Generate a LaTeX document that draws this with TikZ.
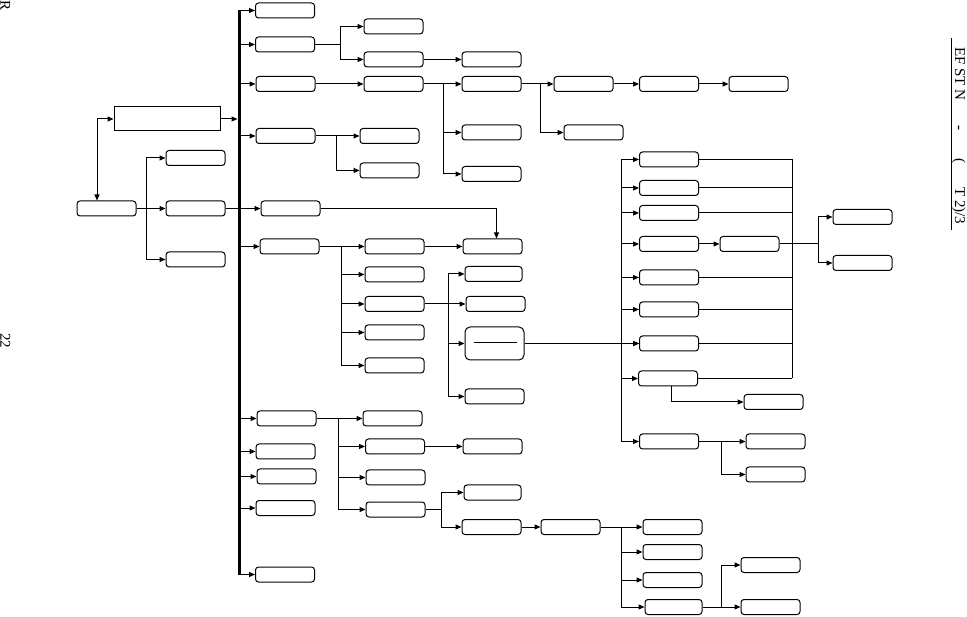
\documentclass[tikz,border=0pt]{standalone}
\usepackage{fontspec}
\setmainfont{Liberation Serif}
\usetikzlibrary{arrows.meta}
\begin{document}
\begin{tikzpicture}[x=1pt,y=-1pt,
  bx/.style={draw, rounded corners=3pt, minimum width=59pt, minimum height=15pt, inner sep=0pt, line width=1pt},
  ln/.style={line width=1pt},
  arr/.style={ln, -{Triangle[length=6pt,width=5pt]}},
  arrtwo/.style={ln, {Triangle[length=6pt,width=5pt]}-{Triangle[length=6pt,width=5pt]}},
  busline/.style={line width=3pt},
  lbl/.style={rotate=-90, inner sep=0pt, font=\fontsize{15}{16}\selectfont}]
\useasboundingbox (0,0) rectangle (967,617);
\newcommand\bxat[3]{\node[bx] (#1) at (#2,#3) {};}
% left part
\bxat{A0}{106.5}{208.5}
\node[draw, line width=1pt, minimum width=106pt, minimum height=24pt, inner sep=0pt] (BIG) at (167,119) {};
\bxat{B1}{195.5}{158}
\bxat{B2}{195.5}{208.5}
\bxat{B3}{195.5}{259.5}
% bus children
\bxat{C1}{285}{10.5}
\bxat{C2}{285}{44.5}
\bxat{C3}{285.5}{84}
\bxat{C4}{285.5}{136}
\bxat{C5}{290.5}{208.5}
\bxat{C6}{289.5}{246.5}
\bxat{C7}{286.5}{418.5}
\bxat{C8}{285.5}{451.5}
\bxat{C9}{286.5}{476.5}
\bxat{C10}{285.5}{508}
\bxat{C11}{285}{574.5}
% upper branches
\bxat{D1}{393.5}{26.5}
\bxat{D2}{393.5}{59.5}
\bxat{E1}{491.5}{59.5}
\bxat{D3}{393.5}{84}
\bxat{E2}{491.5}{84}
\bxat{E3}{491.5}{132.5}
\bxat{E4}{491.5}{174}
\bxat{F1}{583.5}{84}
\bxat{F2}{593.5}{132.5}
\bxat{G1}{669}{84}
\bxat{H1}{758.5}{84}
\bxat{D4}{389.5}{136}
\bxat{D5}{389.5}{170.5}
% middle branches
\bxat{D6}{394.5}{246.5}
\bxat{D7}{394.5}{274.5}
\bxat{D8}{394.5}{304}
\bxat{D9}{394.5}{332.5}
\bxat{D10}{394.5}{365.5}
\bxat{E5}{492.5}{246.5}
\node[bx, minimum width=57pt] (E6) at (493.5,274) {};
\bxat{E7}{495.5}{304}
\node[bx, minimum height=33pt, rounded corners=5pt] (E8) at (494.5,343.5) {};
\draw[ln] ([xshift=-21pt,yshift=1pt]E8.center) -- ([xshift=22pt,yshift=1pt]E8.center);
\bxat{E9}{494.5}{396.5}
% right column
\bxat{R1}{669}{159.5}
\bxat{R2}{669}{188}
\bxat{R3}{669}{213}
\bxat{R4}{669}{244}
\bxat{R5}{669}{277.5}
\bxat{R6}{669}{309.5}
\bxat{R7}{669}{343.5}
\bxat{R8}{668}{378.5}
\bxat{R9}{669}{441.5}
\bxat{S1}{749.5}{244}
\bxat{T1}{862.5}{217}
\bxat{T2}{862.5}{263}
\bxat{U1}{773.5}{402}
\bxat{U2}{775.5}{441.5}
\bxat{U3}{775.5}{474.5}
% lower branches
\bxat{D11}{392.5}{418.5}
\bxat{D12}{395}{446.5}
\bxat{D13}{395.5}{477.5}
\bxat{D14}{395.5}{509.5}
\bxat{E10}{492.5}{446.5}
\node[bx, minimum width=57pt] (E11) at (492.5,492.5) {};
\bxat{E12}{491.5}{527}
\bxat{F3}{570.5}{527}
\bxat{G2}{672.5}{527}
\bxat{G3}{672.5}{552}
\bxat{G4}{672.5}{580}
\node[bx, minimum width=57pt] (G5) at (673.5,607) {};
\bxat{H2}{770.5}{565}
\bxat{H3}{770.5}{607}
% junction coordinates
\coordinate (busT) at (239,10.5);
\coordinate (busB) at (239,574.5);
\coordinate (jA) at (97,119);
\coordinate (jB) at (146,0);
\coordinate (jC2) at (340,0);
\coordinate (jD3) at (443,0);
\coordinate (jE2) at (540,0);
\coordinate (jC4) at (336,0);
\coordinate (jC5) at (496.5,0);
\coordinate (jC6) at (341,0);
\coordinate (jF) at (448,0);
\coordinate (jR) at (621,0);
\coordinate (jK) at (792,0);
\coordinate (jT) at (818,0);
\coordinate (jU) at (721,0);
\coordinate (jC7) at (338,0);
\coordinate (jD14) at (441,0);
% bus
\draw[busline] (busT) -- (busB);
\foreach \c in {C1,C2,C3,C4,C6,C7,C8,C9,C10,C11}
  \draw[arr] (busT |- \c.west) -- (\c.west);
\draw[arr] (BIG.east) -- ([xshift=-1.5pt]BIG.east -| busT);
% left connectors
\draw[arrtwo] (A0.north -| jA) -- (jA) -- (BIG.west);
\draw[ln] (A0.east) -- (A0.east -| jB);
\draw[ln] (jB |- B1.west) -- (jB |- B3.west);
\foreach \c in {B1,B2,B3} \draw[arr] (jB |- \c.west) -- (\c.west);
\draw[arr] (B2.east) -- (C5.west);
% C2
\draw[ln] (C2.east) -- (C2.east -| jC2);
\draw[ln] (jC2 |- D1.west) -- (jC2 |- D2.west);
\foreach \c in {D1,D2} \draw[arr] (jC2 |- \c.west) -- (\c.west);
\draw[arr] (D2.east) -- (E1.west);
% C3
\draw[arr] (C3.east) -- (D3.west);
\draw[ln] (D3.east) -- (D3.east -| jD3);
\draw[ln] (jD3 |- E2.west) -- (jD3 |- E4.west);
\foreach \c in {E2,E3,E4} \draw[arr] (jD3 |- \c.west) -- (\c.west);
\draw[ln] (E2.east) -- (E2.east -| jE2);
\draw[ln] (jE2 |- F1.west) -- (jE2 |- F2.west);
\foreach \c in {F1,F2} \draw[arr] (jE2 |- \c.west) -- (\c.west);
\draw[arr] (F1.east) -- (G1.west);
\draw[arr] (G1.east) -- (H1.west);
% C4
\draw[ln] (C4.east) -- (C4.east -| jC4);
\draw[ln] (jC4 |- D4.west) -- (jC4 |- D5.west);
\foreach \c in {D4,D5} \draw[arr] (jC4 |- \c.west) -- (\c.west);
% C5
\draw[arr] (C5.east) -- (C5.east -| jC5) -- (jC5 |- E5.north);
% C6
\draw[ln] (C6.east) -- (C6.east -| jC6);
\draw[ln] (jC6 |- D6.west) -- (jC6 |- D10.west);
\foreach \c in {D6,D7,D8,D9,D10} \draw[arr] (jC6 |- \c.west) -- (\c.west);
\draw[arr] (D6.east) -- (E5.west);
\draw[arr] (D8.east) -- (E7.west);
\draw[ln] (jF |- E6.west) -- (jF |- E9.west);
\foreach \c in {E6,E8,E9} \draw[arr] (jF |- \c.west) -- (\c.west);
\draw[arr] (E8.east) -- (R7.west);
% right column
\draw[ln] (jR |- R1.west) -- (jR |- R9.west);
\foreach \c in {R1,R2,R3,R4,R5,R6,R7,R8,R9} \draw[arr] (jR |- \c.west) -- (\c.west);
\draw[ln] (jK |- R1.east) -- (jK |- R8.east);
\foreach \c in {R1,R2,R3,R5,R6,R7,R8} \draw[ln] (\c.east) -- (\c.east -| jK);
\draw[arr] (R4.east) -- (S1.west);
\draw[ln] (S1.east) -- (S1.east -| jT);
\draw[ln] (jT |- T1.west) -- (jT |- T2.west);
\foreach \c in {T1,T2} \draw[arr] (jT |- \c.west) -- (\c.west);
\draw[arr] ([xshift=3pt]R8.south) |- (U1.west);
\draw[ln] (R9.east) -- (R9.east -| jU);
\draw[ln] (jU |- U2.west) -- (jU |- U3.west);
\foreach \c in {U2,U3} \draw[arr] (jU |- \c.west) -- (\c.west);
% C7
\draw[ln] (C7.east) -- (C7.east -| jC7);
\draw[ln] (jC7 |- D11.west) -- (jC7 |- D14.west);
\foreach \c in {D11,D12,D13,D14} \draw[arr] (jC7 |- \c.west) -- (\c.west);
\draw[arr] (D12.east) -- (E10.west);
\draw[ln] (D14.east) -- (D14.east -| jD14);
\draw[ln] (jD14 |- E11.west) -- (jD14 |- E12.west);
\foreach \c in {E11,E12} \draw[arr] (jD14 |- \c.west) -- (\c.west);
\draw[arr] (E12.east) -- (F3.west);
\draw[ln] (F3.east) -- (F3.east -| jR);
\draw[ln] (jR |- G2.west) -- (jR |- G5.west);
\foreach \c in {G2,G3,G4,G5} \draw[arr] (jR |- \c.west) -- (\c.west);
\draw[ln] (G5.east) -- (G5.east -| jU);
\draw[ln] (jU |- H2.west) -- (jU |- H3.west);
\foreach \c in {H2,H3} \draw[arr] (jU |- \c.west) -- (\c.west);
% texts
\node[lbl, anchor=base west] (tR) at (0.5,0.5) {R};
\node[lbl, anchor=base west] (t22) at (0.5,333) {22};
\coordinate (uT) at (951,38);
\coordinate (uB) at (951,230);
\draw[ln] (uT) -- (uB);
\node[lbl, anchor=base west] (title) at (955,47) {\makebox[78pt][l]{EF ST N}\makebox[33pt][l]{\textbf{-}}\makebox[29pt][l]{(}T 2)/3};
\end{tikzpicture}
\end{document}
